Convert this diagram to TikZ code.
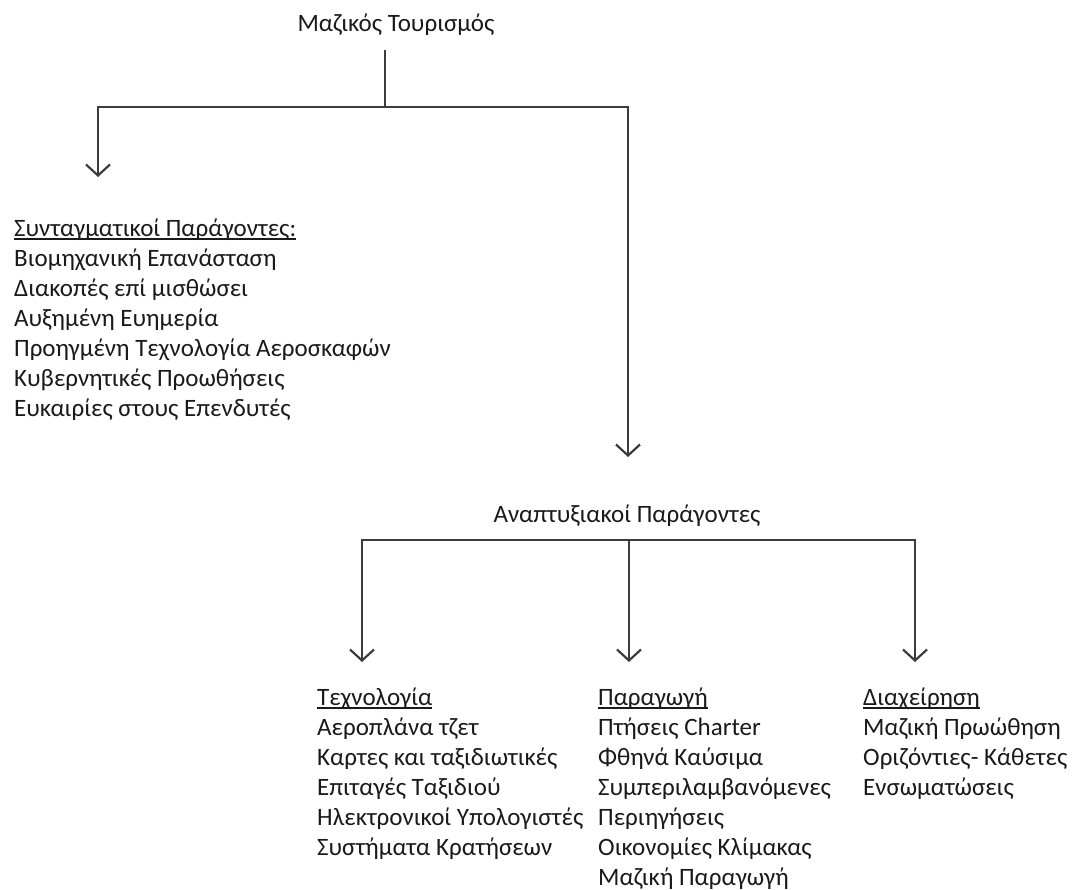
\documentclass[tikz,border=0pt]{standalone}
\usepackage{fontspec}
\setmainfont{Carlito}
\usetikzlibrary{arrows.meta}
\definecolor{tcol}{HTML}{1A1A1A}
\definecolor{lcol}{HTML}{3C3C3C}
\newcommand\myul[1]{\setbox0\hbox{#1}\rlap{\rule[-3.5pt]{\wd0}{1.4pt}}#1}
\tikzset{
  txt/.style={inner sep=0pt, text=tcol, font=\fontsize{25}{30}\selectfont},
  blk/.style={txt, align=left, anchor=north west},
  ln/.style={draw=lcol, line width=2.5pt},
  arr/.style={ln, -{Straight Barb[length=11pt,width=24pt,line width=2.2pt]}}
}
\begin{document}
\begin{tikzpicture}[x=1pt,y=-1pt]
\useasboundingbox (0,0) rectangle (1080,890);
% texts
\node[txt, anchor=base] (t) at (396,32) {Μαζικός Τουρισμός};
\node[blk] (s) at (14,215) {\strut\myul{Συνταγματικοί Παράγοντες:}\\
Βιομηχανική Επανάσταση\\
Διακοπές επί μισθώσει\\
Αυξημένη Ευημερία\\
Προηγμένη Τεχνολογία Αεροσκαφών\\
Κυβερνητικές Προωθήσεις\\
Ευκαιρίες στους Επενδυτές};
\node[txt, anchor=base] (a) at (627,523) {Αναπτυξιακοί Παράγοντες};
\node[blk] (c1) at (317,684) {\strut\myul{Τεχνολογία}\\
Αεροπλάνα τζετ\\
Καρτες και ταξιδιωτικές\\
Επιταγές Ταξιδιού\\
Ηλεκτρονικοί Υπολογιστές\\
Συστήματα Κρατήσεων};
\node[blk] (c2) at (598,684) {\strut\myul{Παραγωγή}\\
Πτήσεις Charter\\
Φθηνά Καύσιμα\\
Συμπεριλαμβανόμενες\\
Περιηγήσεις\\
Οικονομίες Κλίμακας\\
Μαζική Παραγωγή};
\node[blk] (c3) at (863,684) {\strut\myul{Διαχείρηση}\\
Μαζική Πρωώθηση\\
Οριζόντιες- Κάθετες\\
Ενσωματώσεις};
% connector points
\coordinate (j0) at (385,50);
\coordinate (j1) at (385,107);
\coordinate (e1) at (98,177);
\coordinate (e2) at (628,457);
\coordinate (j2) at (629,540);
\coordinate (f1) at (362,662);
\coordinate (f2) at (629,662);
\coordinate (f3) at (915,662);
% connectors
\draw[ln] (j0) -- (j1);
\draw[arr] (j1) -| (e1);
\draw[arr] (j1) -| (e2);
\draw[arr] (j2) -| (f1);
\draw[arr] (j2) -- (f2);
\draw[arr] (j2) -| (f3);
\end{tikzpicture}
\end{document}
